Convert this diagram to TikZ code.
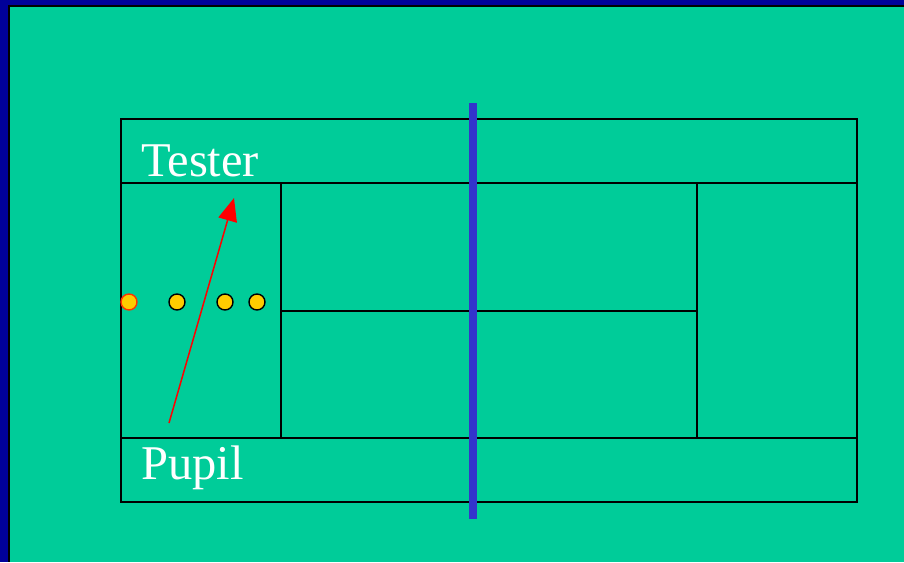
\documentclass[tikz,border=0pt]{standalone}
\usepackage{fontspec}
\setmainfont{Liberation Serif}
\usetikzlibrary{arrows.meta}
\definecolor{bg}{HTML}{00CC99}
\definecolor{frame}{HTML}{000099}
\definecolor{netc}{HTML}{3333CC}
\definecolor{ballc}{HTML}{FFCC00}
\definecolor{ballo}{HTML}{FF3300}
\begin{document}
\begin{tikzpicture}[x=1pt,y=-1pt,
  court/.style={draw=black,line width=1.6pt},
  ball/.style={circle,draw=black,fill=ballc,line width=1.4pt,minimum size=16pt,inner sep=0pt},
  lbl/.style={text=white,font=\fontsize{48.5}{50}\selectfont,anchor=base west,inner sep=0pt}]
\useasboundingbox (0,0) rectangle (904,562);
\fill[frame] (0,0) rectangle (904,562);
\fill[black] (8,5) rectangle (904,562);
\fill[bg] (10,7) rectangle (904,562);
% court
\draw[court] (121,119) rectangle (857,502);
\draw[court] (121,183) -- (857,183);
\draw[court] (121,438) -- (857,438);
\draw[court] (281,183) -- (281,438);
\draw[court] (697,183) -- (697,438);
\draw[court] (281,311) -- (697,311);
% net
\draw[netc,line width=8pt] (473,103) -- (473,519);
% labels
\node[lbl] (tester) at (141,176) {Tester};
\node[lbl] (pupil) at (141,479) {Pupil};
% balls
\node[ball,draw=ballo] (b0) at (129,302) {};
\node[ball] (b1) at (177,302) {};
\node[ball] (b2) at (225,302) {};
\node[ball] (b3) at (257,302) {};
% arrow
\coordinate (s) at (169,423);
\coordinate (e) at (234,198);
\draw[red,line width=1.5pt,-{Triangle[length=23pt,width=19pt]}] (s) -- (e);
\end{tikzpicture}
\end{document}
